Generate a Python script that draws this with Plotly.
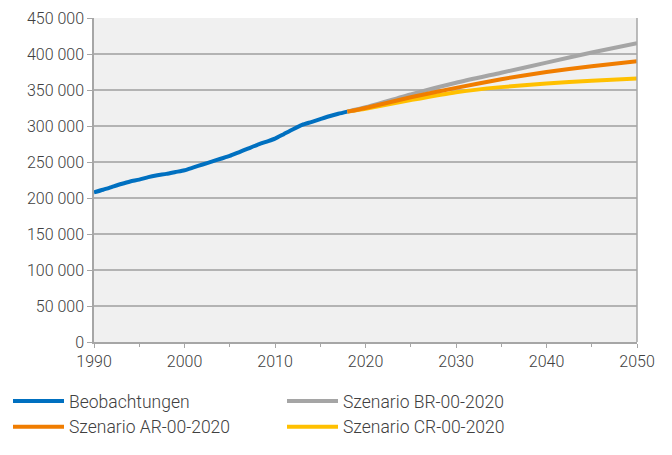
import plotly.graph_objects as go

years_obs = list(range(1990, 2019))
beobachtungen = [208000, 211500, 215500, 219500, 223000, 225500, 229000, 231500, 233500, 236000,
                 238500, 242500, 246500, 250500, 254500, 258500, 263500, 268500, 273500, 278000,
                 282500, 289000, 295500, 301500, 305500, 309500, 313500, 317000, 320000]

years_scen = [2018, 2020, 2025, 2030, 2035, 2040, 2045, 2050]
szenario_ar = [320000, 325000, 340000, 353000, 365000, 375000, 383000, 390000]
szenario_br = [320000, 326000, 344000, 360000, 374000, 388000, 402000, 415000]
szenario_cr = [320000, 324000, 336000, 347000, 354000, 359000, 363000, 366000]

x_ticks = [1990, 2000, 2010, 2020, 2030, 2040, 2050]
y_ticks = [0, 50000, 100000, 150000, 200000, 250000, 300000, 350000, 400000, 450000]

BLUE = "#0070c0"
ORANGE = "#f07d00"
GRAY = "#a5a5a5"
YELLOW = "#ffc000"
TXT = "#404040"

fig = go.Figure()
fig.add_trace(go.Scatter(x=years_obs, y=beobachtungen, mode="lines", name="Beobachtungen",
                         line=dict(color=BLUE, width=4, shape="spline", smoothing=0.6), legendrank=1))
fig.add_trace(go.Scatter(x=years_scen, y=szenario_cr, mode="lines", name="Szenario CR-00-2020",
                         line=dict(color=YELLOW, width=4, shape="spline", smoothing=0.6), legendrank=4))
fig.add_trace(go.Scatter(x=years_scen, y=szenario_br, mode="lines", name="Szenario BR-00-2020",
                         line=dict(color=GRAY, width=4, shape="spline", smoothing=0.6), legendrank=2))
fig.add_trace(go.Scatter(x=years_scen, y=szenario_ar, mode="lines", name="Szenario AR-00-2020",
                         line=dict(color=ORANGE, width=4, shape="spline", smoothing=0.6), legendrank=3))

fig.update_layout(
    width=672, height=455,
    margin=dict(l=94, r=35, t=18, b=113, autoexpand=False),
    paper_bgcolor="white",
    plot_bgcolor="#f0f0f0",
    separators=", ",
    font=dict(family="Roboto", size=16, color=TXT, weight=300),
    showlegend=True,
    legend=dict(orientation="h", x=(8 - 94) / 543, y=(342 - 383) / 324,
                xanchor="left", yanchor="top",
                entrywidth=208, entrywidthmode="pixels", itemwidth=51,
                font=dict(family="Roboto", size=17.5, color=TXT, weight=300),
                traceorder="normal", bgcolor="rgba(0,0,0,0)"),
)
fig.update_xaxes(range=[1990, 2050], tickvals=x_ticks, showgrid=False, zeroline=False,
                 showline=True, linecolor="#a6a6a6", linewidth=1.5,
                 ticks="outside", ticklen=4, tickcolor="#a6a6a6",
                 minor=dict(dtick=5, ticks="outside", ticklen=3, tickcolor="#a6a6a6", showgrid=False))
fig.update_yaxes(range=[0, 450000], tickvals=y_ticks, tickformat=",d",
                 showgrid=True, gridcolor="#b3b3b3", gridwidth=1.5, zeroline=False,
                 showline=True, linecolor="#a6a6a6", linewidth=1.5,
                 ticks="outside", ticklen=5, tickcolor="#a6a6a6")
fig.add_shape(type="line", xref="paper", yref="paper", x0=1, x1=1, y0=0, y1=1,
              line=dict(color="#a6a6a6", width=1.5), layer="above")

fig.write_html("out.html", config={"displayModeBar": False},
               post_script="document.body.style.margin='0';document.body.style.overflow='hidden';")
